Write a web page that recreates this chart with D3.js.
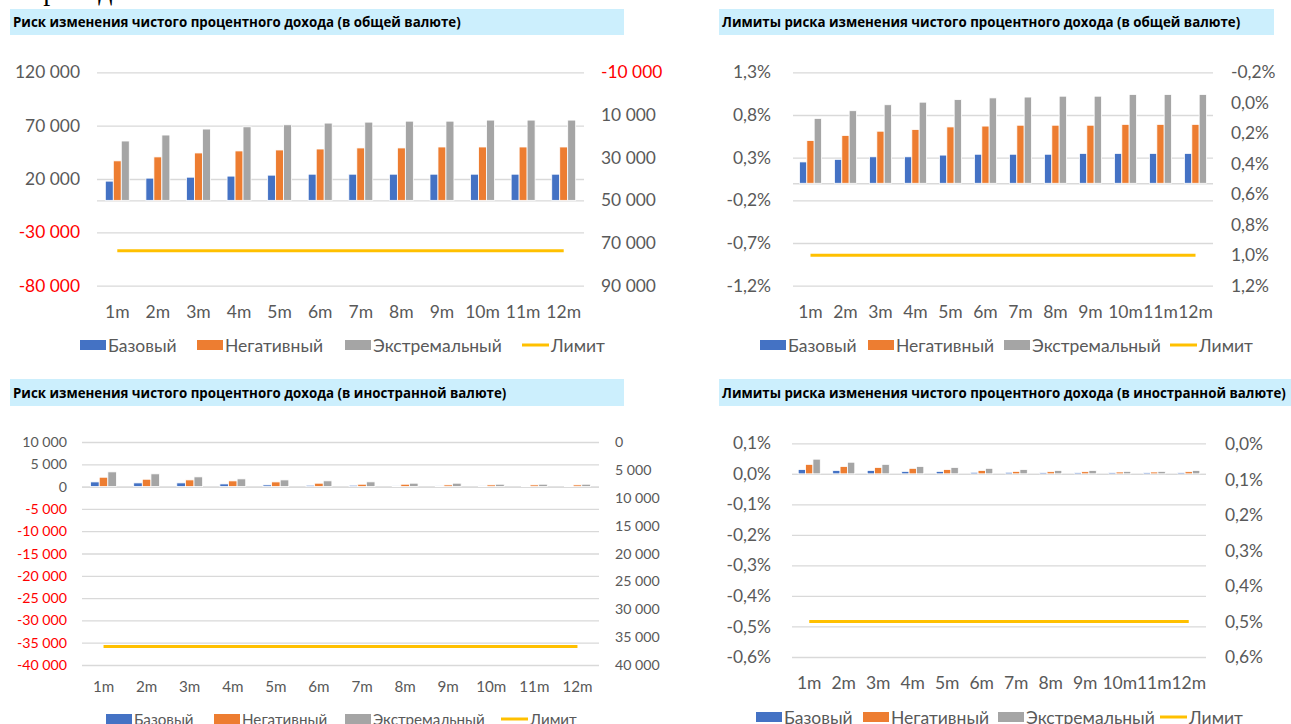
<!DOCTYPE html>
<html>
<head>
<meta charset="utf-8">
<script src="https://cdn.jsdelivr.net/npm/d3@7"></script>
<style>
  body { margin: 0; background: #fff; }
  svg { display: block; }
</style>
</head>
<body>
<svg id="chart" width="1291" height="724"></svg>
<script>
var cats = ["1m", "2m", "3m", "4m", "5m", "6m", "7m", "8m", "9m", "10m", "11m", "12m"];
var seriesNames = ["Базовый", "Негативный", "Экстремальный"];
var limitName = "Лимит";

// top left: общая валюта, сумма
var tlTitle = "Риск изменения чистого процентного дохода (в общей валюте)";
var tlBase = [18000, 20800, 21700, 22700, 23600, 24500, 24500, 24500, 24500, 24500, 24500, 24500];
var tlNeg = [37000, 40700, 44400, 46300, 47200, 48100, 49100, 49100, 50000, 50000, 50000, 50000];
var tlExt = [55600, 61200, 66800, 68900, 70800, 72400, 73300, 74200, 74200, 75200, 75200, 75200];
var tlLimit = [73600, 73600, 73600, 73600, 73600, 73600, 73600, 73600, 73600, 73600, 73600, 73600];
var tlLeftTicks = [-80000, -30000, 20000, 70000, 120000];
var tlRightTicks = [-10000, 10000, 30000, 50000, 70000, 90000];

// top right: общая валюта, %
var trTitle = "Лимиты риска изменения чистого процентного дохода (в общей валюте)";
var trBase = [0.25, 0.28, 0.31, 0.31, 0.33, 0.34, 0.34, 0.34, 0.35, 0.35, 0.35, 0.35];
var trNeg = [0.50, 0.56, 0.61, 0.63, 0.66, 0.67, 0.68, 0.68, 0.68, 0.69, 0.69, 0.69];
var trExt = [0.76, 0.85, 0.92, 0.95, 0.98, 1.00, 1.01, 1.02, 1.02, 1.04, 1.04, 1.04];
var trLimit = [1.0, 1.0, 1.0, 1.0, 1.0, 1.0, 1.0, 1.0, 1.0, 1.0, 1.0, 1.0];
var trLeftTicks = [-1.2, -0.7, -0.2, 0.3, 0.8, 1.3];
var trRightTicks = [-0.2, 0, 0.2, 0.4, 0.6, 0.8, 1.0, 1.2];

// bottom left: иностранная валюта, сумма
var blTitle = "Риск изменения чистого процентного дохода (в иностранной валюте)";
var blBase = [1050, 830, 830, 600, 380, 300, 300, 150, 150, 150, 100, 100];
var blNeg = [2100, 1650, 1500, 1280, 1050, 760, 530, 530, 380, 380, 380, 380];
var blExt = [3300, 2860, 2180, 1730, 1500, 1290, 1060, 760, 760, 530, 530, 530];
var blLimit = [36700, 36700, 36700, 36700, 36700, 36700, 36700, 36700, 36700, 36700, 36700, 36700];
var blLeftTicks = [-40000, -35000, -30000, -25000, -20000, -15000, -10000, -5000, 0, 5000, 10000];
var blRightTicks = [0, 5000, 10000, 15000, 20000, 25000, 30000, 35000, 40000];

// bottom right: иностранная валюта, %
var brTitle = "Лимиты риска изменения чистого процентного дохода (в иностранной валюте)";
var brBase = [0.014, 0.011, 0.011, 0.008, 0.008, 0.005, 0.005, 0.004, 0.004, 0.004, 0.004, 0.004];
var brNeg = [0.031, 0.024, 0.021, 0.018, 0.014, 0.011, 0.008, 0.007, 0.007, 0.006, 0.006, 0.007];
var brExt = [0.048, 0.038, 0.031, 0.024, 0.021, 0.018, 0.014, 0.011, 0.011, 0.008, 0.008, 0.011];
var brLimit = [0.5, 0.5, 0.5, 0.5, 0.5, 0.5, 0.5, 0.5, 0.5, 0.5, 0.5, 0.5];
var brLeftTicks = [-0.6, -0.5, -0.4, -0.3, -0.2, -0.1, 0, 0.1];
var brRightTicks = [0, 0.1, 0.2, 0.3, 0.4, 0.5, 0.6];

var colors = ["#4472C4", "#ED7D31", "#A5A5A5"];
var limitColor = "#FFC000";
var textColor = "#595959";
var gridColor = "#D9D9D9";
var font = "Lato, 'Open Sans', sans-serif";

var ru = d3.formatLocale({ decimal: ",", thousands: " ", grouping: [3], currency: ["", ""], minus: "-" });
var fmtNum = ru.format(",.0f");
var fmtPct = function (v) { return ru.format(".1f")(v) + "%"; };

var svg = d3.select("#chart");

// обрывок текста над графиками (видны только нижние выносные)
svg.append("text")
  .attr("x", 23).attr("y", 0)
  .style("font-family", "'Liberation Serif', serif")
  .style("font-size", "28px")
  .attr("fill", "#000")
  .text("Приход");

function drawPanel(p) {
  var g = svg.append("g");

  // title band
  g.append("rect")
    .attr("x", p.band[0]).attr("y", p.band[1])
    .attr("width", p.band[2] - p.band[0]).attr("height", p.band[3] - p.band[1])
    .attr("fill", "#CCEFFD");
  g.append("text")
    .attr("x", p.band[0] + 3).attr("y", (p.band[1] + p.band[3]) / 2)
    .attr("dominant-baseline", "central")
    .style("font-family", "'Open Sans', sans-serif")
    .style("font-weight", "bold")
    .style("font-size", "13.3px")
    .attr("fill", "#000")
    .text(p.title);

  var x0 = d3.scaleBand().domain(cats).range(p.xr)
    .paddingInner(p.gap).paddingOuter(p.gap / 2);
  var x1 = d3.scaleBand().domain(seriesNames).range([0, x0.bandwidth()]);
  var yL = d3.scaleLinear().domain(d3.extent(p.leftTicks)).range(p.yl);
  var yR = d3.scaleLinear().domain(d3.extent(p.rightTicks)).range(p.yr);

  // grid
  g.append("g")
    .attr("transform", "translate(" + p.xr[0] + ",0)")
    .call(d3.axisLeft(yL).tickValues(p.leftTicks.concat([0])).tickSize(-(p.xr[1] - p.xr[0])).tickFormat(""))
    .call(function (a) { a.select(".domain").remove(); })
    .selectAll("line").attr("stroke", gridColor).attr("stroke-width", 1.3);

  // left labels
  g.append("g")
    .attr("transform", "translate(" + p.xr[0] + ",0)")
    .call(d3.axisLeft(yL).tickValues(p.leftTicks).tickSize(0).tickPadding(p.padL).tickFormat(p.fmt))
    .call(function (a) { a.select(".domain").remove(); })
    .selectAll("text")
    .style("font-family", font).style("font-size", p.fs + "px")
    .attr("fill", function (d) { return (p.redNeg && d < 0) ? "#FF0000" : textColor; });

  // right labels
  g.append("g")
    .attr("transform", "translate(" + p.xr[1] + ",0)")
    .call(d3.axisRight(yR).tickValues(p.rightTicks).tickSize(0).tickPadding(p.padR).tickFormat(p.fmt))
    .call(function (a) { a.select(".domain").remove(); })
    .selectAll("text")
    .style("font-family", font).style("font-size", p.fs + "px")
    .attr("fill", function (d) { return (p.redNeg && d < 0) ? "#FF0000" : textColor; });

  // bars
  var rows = cats.map(function (c, i) {
    return { cat: c, vals: p.series.map(function (s, k) { return { name: seriesNames[k], v: s[i], k: k }; }) };
  });
  var grp = g.selectAll(".grp").data(rows).enter().append("g")
    .attr("transform", function (d) { return "translate(" + x0(d.cat) + ",0)"; });
  grp.selectAll("rect").data(function (d) { return d.vals; }).enter().append("rect")
    .attr("x", function (d) { return x1(d.name); })
    .attr("y", function (d) { return yL(Math.max(0, d.v)); })
    .attr("width", x1.bandwidth())
    .attr("height", function (d) { return Math.abs(yL(d.v) - yL(0)); })
    .attr("fill", function (d) { return colors[d.k]; })
    .attr("stroke", "#fff").attr("stroke-width", 0.8);

  // limit line on the secondary axis
  var line = d3.line()
    .x(function (d, i) { return x0(cats[i]) + x0.bandwidth() / 2; })
    .y(function (d) { return yR(d); });
  g.append("path").datum(p.limit)
    .attr("d", line)
    .attr("fill", "none").attr("stroke", limitColor).attr("stroke-width", 3);

  // category labels
  g.selectAll(".cat").data(cats).enter().append("text")
    .attr("x", function (d) { return x0(d) + x0.bandwidth() / 2; })
    .attr("y", p.catY)
    .attr("text-anchor", "middle").attr("dominant-baseline", "central")
    .style("font-family", font).style("font-size", p.lfs + "px")
    .attr("fill", textColor)
    .text(function (d) { return d; });

  // legend
  var names = seriesNames.concat([limitName]);
  names.forEach(function (n, i) {
    var lx = p.legX[i];
    if (i < 3) {
      g.append("rect").attr("x", lx).attr("y", p.legY - 5).attr("width", 26).attr("height", 10)
        .attr("fill", colors[i]);
    } else {
      g.append("line").attr("x1", lx).attr("x2", lx + 27).attr("y1", p.legY).attr("y2", p.legY)
        .attr("stroke", limitColor).attr("stroke-width", 3);
    }
    g.append("text")
      .attr("x", lx + (i < 3 ? 28 : 29)).attr("y", p.legY)
      .attr("dominant-baseline", "central")
      .style("font-family", font).style("font-size", p.lfs + "px")
      .attr("fill", textColor)
      .text(n);
  });
}

drawPanel({
  title: tlTitle, band: [10, 9, 624, 35],
  series: [tlBase, tlNeg, tlExt], limit: tlLimit,
  leftTicks: tlLeftTicks, rightTicks: tlRightTicks, fmt: fmtNum, redNeg: true,
  xr: [97, 584], yl: [285.7, 72.3], yr: [72.3, 285.7], gap: 0.41,
  padL: 17, padR: 17, catY: 311, fs: 17.4, lfs: 17.5,
  legX: [80, 197, 345, 522], legY: 345
});

drawPanel({
  title: trTitle, band: [719, 9, 1274, 35],
  series: [trBase, trNeg, trExt], limit: trLimit,
  leftTicks: trLeftTicks, rightTicks: trRightTicks, fmt: fmtPct, redNeg: false,
  xr: [793, 1213], yl: [285.7, 72.3], yr: [72.3, 285.7], gap: 0.37,
  padL: 22, padR: 18, catY: 311, fs: 17.4, lfs: 17.5,
  legX: [760, 868, 1004, 1170], legY: 345
});

drawPanel({
  title: blTitle, band: [10, 379, 624, 406],
  series: [blBase, blNeg, blExt], limit: blLimit,
  leftTicks: blLeftTicks, rightTicks: blRightTicks, fmt: fmtNum, redNeg: true,
  xr: [82, 599], yl: [665, 442], yr: [442, 665], gap: 0.4,
  padL: 15, padR: 16, catY: 686, fs: 14.2, lfs: 15.2,
  legX: [106, 214, 345, 501], legY: 719
});

drawPanel({
  title: brTitle, band: [719, 379, 1291, 406],
  series: [brBase, brNeg, brExt], limit: brLimit,
  leftTicks: brLeftTicks, rightTicks: brRightTicks, fmt: fmtPct, redNeg: false,
  xr: [792, 1206], yl: [657, 443.3], yr: [444, 657], gap: 0.36,
  padL: 21, padR: 19, catY: 682, fs: 17.4, lfs: 17.5,
  legX: [756, 863, 998, 1160], legY: 717
});
</script>
</body>
</html>
